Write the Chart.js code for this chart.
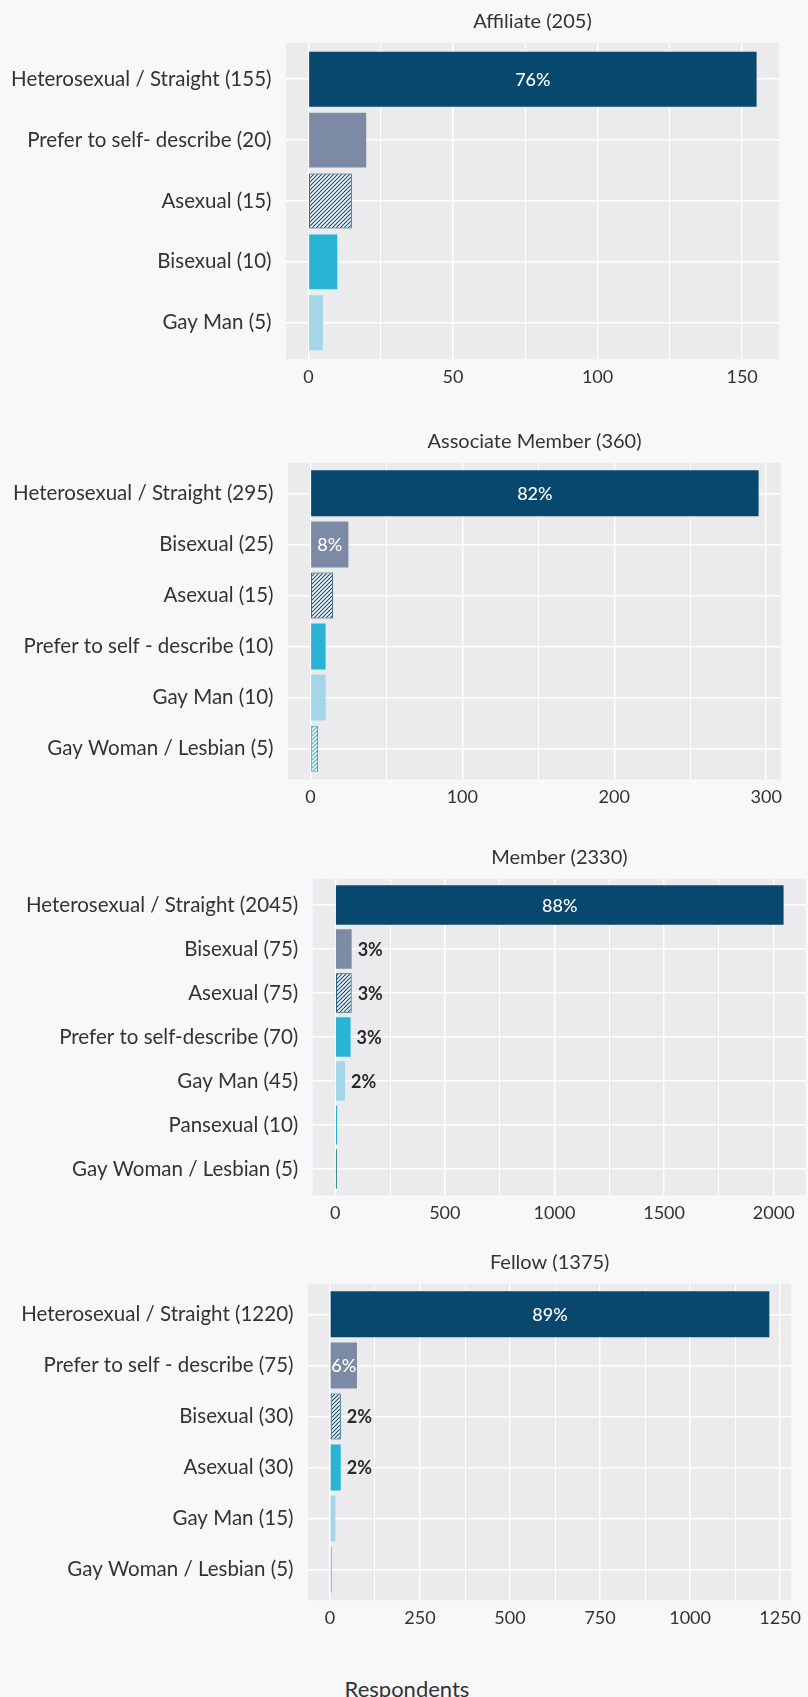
<!DOCTYPE html>
<html>
<head>
<meta charset="utf-8">
<script src="https://cdn.jsdelivr.net/npm/chart.js@4.4.1/dist/chart.umd.min.js"></script>
<style>
  body { margin: 0; background: #f7f8fa; width: 808px; height: 1697px; overflow: hidden; position: relative; }
  canvas.panel { position: absolute; left: 0; }
  #xtitle { position: absolute; left: 0; width: 814px; top: 1675px; text-align: center;
            font: 22px Lato, sans-serif; line-height: 27px; color: #333; }
</style>
</head>
<body>
<canvas id="c1" class="panel" width="808" height="400" style="top:0px"></canvas>
<canvas id="c2" class="panel" width="808" height="400" style="top:420px"></canvas>
<canvas id="c3" class="panel" width="808" height="400" style="top:836px"></canvas>
<canvas id="c4" class="panel" width="808" height="400" style="top:1241px"></canvas>
<div id="xtitle">Respondents</div>
<script>
// ---- data ----
const affiliateTitle  = 'Affiliate (205)';
const affiliateLabels = ['Heterosexual / Straight (155)', 'Prefer to self- describe (20)', 'Asexual (15)', 'Bisexual (10)', 'Gay Man (5)'];
const affiliateValues = [155, 20, 15, 10, 5];
const affiliatePct    = ['76%', '', '', '', ''];
const affiliateTicks  = [0, 50, 100, 150];

const associateTitle  = 'Associate Member (360)';
const associateLabels = ['Heterosexual / Straight (295)', 'Bisexual (25)', 'Asexual (15)', 'Prefer to self - describe (10)', 'Gay Man (10)', 'Gay Woman / Lesbian (5)'];
const associateValues = [295, 25, 15, 10, 10, 5];
const associatePct    = ['82%', '8%', '', '', '', ''];
const associateTicks  = [0, 100, 200, 300];

const memberTitle  = 'Member (2330)';
const memberLabels = ['Heterosexual / Straight (2045)', 'Bisexual (75)', 'Asexual (75)', 'Prefer to self-describe (70)', 'Gay Man (45)', 'Pansexual (10)', 'Gay Woman / Lesbian (5)'];
const memberValues = [2045, 75, 75, 70, 45, 10, 5];
const memberPct    = ['88%', '3%', '3%', '3%', '2%', '', ''];
const memberTicks  = [0, 500, 1000, 1500, 2000];

const fellowTitle  = 'Fellow (1375)';
const fellowLabels = ['Heterosexual / Straight (1220)', 'Prefer to self - describe (75)', 'Bisexual (30)', 'Asexual (30)', 'Gay Man (15)', 'Gay Woman / Lesbian (5)'];
const fellowValues = [1220, 75, 30, 30, 15, 5];
const fellowPct    = ['89%', '6%', '2%', '2%', '', ''];
const fellowTicks  = [0, 250, 500, 750, 1000, 1250];

// ---- styling ----
const NAVY = '#08476e', SLATE = '#7d8aa5', CYAN = '#29b4d6', SKY = '#a3d6e8', TEAL = '#127a6a';
const PANEL_BG = '#ebebed';
const TEXT = '#333333';
const FONT = 'Lato, sans-serif';

function hatch(color) {
  const c = document.createElement('canvas');
  c.width = c.height = 4;
  const g = c.getContext('2d');
  g.fillStyle = '#f7f9fb';
  g.fillRect(0, 0, 4, 4);
  g.strokeStyle = color;
  g.lineWidth = 1.05;
  g.beginPath();
  g.moveTo(0, 4); g.lineTo(4, 0);
  g.moveTo(-1, 1); g.lineTo(1, -1);
  g.moveTo(3, 5); g.lineTo(5, 3);
  g.stroke();
  return g.createPattern(c, 'repeat');
}

// fill per rank within a panel
const RANK_FILL   = [NAVY, SLATE, hatch(NAVY), CYAN, SKY, hatch(CYAN), TEAL];
const RANK_BORDER = [NAVY, SLATE, NAVY, CYAN, SKY, CYAN, TEAL];
const RANK_BW     = [0, 0, 1, 0, 0, 1, 0];

const panelBg = {
  id: 'panelBg',
  beforeDraw(chart) {
    const { ctx, chartArea: a } = chart;
    ctx.save();
    ctx.fillStyle = PANEL_BG;
    ctx.fillRect(a.left, a.top, a.right - a.left, a.bottom - a.top);
    ctx.restore();
  },
};

const pctLabels = {
  id: 'pctLabels',
  afterDatasetsDraw(chart) {
    const { ctx } = chart;
    const pct = chart.options.plugins.pctLabels.labels;
    const bars = chart.getDatasetMeta(0).data;
    ctx.save();
    ctx.textBaseline = 'middle';
    bars.forEach((el, i) => {
      const txt = pct[i];
      if (!txt) return;
      const w = el.x - el.base;
      if (w > 24) {
        ctx.font = '500 18px ' + FONT;
        ctx.fillStyle = '#ffffff';
        ctx.textAlign = 'center';
        ctx.fillText(txt, (el.x + el.base) / 2, el.y + 1);
      } else {
        ctx.font = 'bold 18px ' + FONT;
        ctx.fillStyle = '#2a2a2a';
        ctx.textAlign = 'left';
        ctx.fillText(txt, el.x + 6, el.y + 1);
      }
    });
    ctx.restore();
  },
};

function makePanel(id, title, labels, values, pct, majors, left, right) {
  const max = Math.max(...values);
  const lo = -0.05 * max, hi = 1.05 * max;
  const step = majors[1] - majors[0];
  const all = [];
  for (let v = majors[0] - step / 2; v <= hi; v += step / 2) if (v >= lo) all.push(v);
  const majorSet = new Set(majors);
  const n = labels.length;

  new Chart(document.getElementById(id), {
    type: 'bar',
    data: {
      datasets: [{
        data: values.map((v, i) => ({ x: v, y: i })),
        backgroundColor: values.map((_, i) => RANK_FILL[i]),
        borderColor: values.map((_, i) => RANK_BORDER[i]),
        borderWidth: values.map((_, i) => RANK_BW[i]),
        borderSkipped: false,
        categoryPercentage: 0.9,
        barPercentage: 1.0,
        minBarLength: 1.6,
      }],
    },
    plugins: [panelBg, pctLabels],
    options: {
      indexAxis: 'y',
      responsive: false,
      animation: false,
      layout: { padding: { left: 0, right: 808 - right, top: 0, bottom: 0 } },
      plugins: {
        legend: { display: false },
        tooltip: { enabled: false },
        title: {
          display: true, text: title, fullSize: false, color: TEXT,
          font: { family: FONT, size: 20, weight: 'normal', lineHeight: 1.2 },
          padding: { top: 9.7, bottom: 9 },
        },
        pctLabels: { labels: pct },
      },
      scales: {
        x: {
          type: 'linear', min: lo, max: hi, offset: false,
          afterBuildTicks: s => { s.ticks = all.map(v => ({ value: v })); },
          afterFit: s => { s.height = 40.7; },
          ticks: {
            color: TEXT, padding: 6.6, maxRotation: 0, autoSkip: false,
            font: { family: FONT, size: 18 },
            callback: v => (majorSet.has(v) ? String(v) : ''),
          },
          grid: {
            color: '#ffffff', drawTicks: false, offset: false,
            lineWidth: c => (majorSet.has(c.tick.value) ? 1.4 : 1.0),
          },
          border: { display: false },
        },
        y: {
          type: 'linear', reverse: true, min: -0.6, max: n - 0.4, offset: false,
          afterBuildTicks: s => { s.ticks = labels.map((_, i) => ({ value: i })); },
          afterFit: s => { s.width = left; },
          ticks: {
            color: TEXT, padding: 14.5, autoSkip: false,
            font: { family: FONT, size: 20.5 },
            callback: v => labels[v],
          },
          grid: { color: '#ffffff', drawTicks: false, offset: false, lineWidth: 1.5 },
          border: { display: false },
        },
      },
    },
  });
}

makePanel('c1', affiliateTitle, affiliateLabels, affiliateValues, affiliatePct, affiliateTicks, 286, 779);
makePanel('c2', associateTitle, associateLabels, associateValues, associatePct, associateTicks, 288, 781);
makePanel('c3', memberTitle, memberLabels, memberValues, memberPct, memberTicks, 312.8, 806);
makePanel('c4', fellowTitle, fellowLabels, fellowValues, fellowPct, fellowTicks, 308, 801);
</script>
</body>
</html>
